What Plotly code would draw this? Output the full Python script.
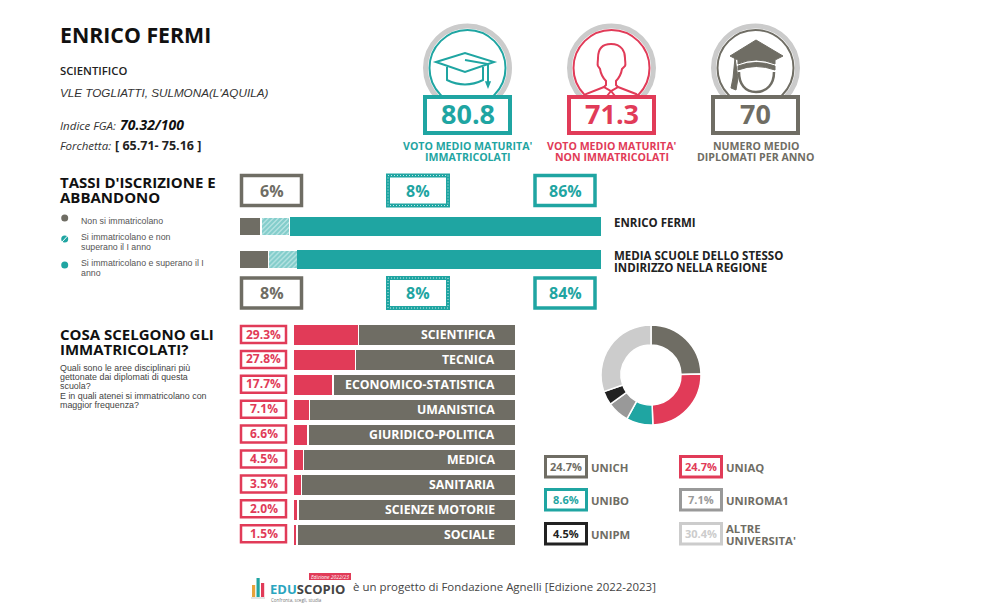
import plotly.graph_objects as go

W, H = 1000, 613

TEAL = "#1fa5a2"
RED = "#e13b58"
GREY = "#6f6d64"
MID_GREY = "#999999"
LIGHT_GREY = "#cccccc"
BLACK = "#222222"
RING = "#cbcbcb"
SANS = "Open Sans"
ARIAL = "Liberation Sans"

# Data
school_rows = ["ENRICO FERMI", "MEDIA"]
not_enrolled = [6, 8]
enrolled_fail = [8, 8]
enrolled_pass = [86, 84]

subjects = ["SCIENTIFICA", "TECNICA", "ECONOMICO-STATISTICA", "UMANISTICA",
            "GIURIDICO-POLITICA", "MEDICA", "SANITARIA", "SCIENZE MOTORIE", "SOCIALE"]
subject_share = [29.3, 27.8, 17.7, 7.1, 6.6, 4.5, 3.5, 2.0, 1.5]

universities = ["UNICH", "UNIAQ", "UNIBO", "UNIROMA1", "UNIPM", "ALTRE<br>UNIVERSITA'"]
university_share = [24.7, 24.7, 8.6, 7.1, 4.5, 30.4]
university_colors = [GREY, RED, TEAL, MID_GREY, BLACK, LIGHT_GREY]

kpi_values = ["80.8", "71.3", "70"]
kpi_line1 = ["VOTO MEDIO MATURITA'", "VOTO MEDIO MATURITA'", "NUMERO MEDIO"]
kpi_line2 = ["IMMATRICOLATI", "NON IMMATRICOLATI", "DIPLOMATI PER ANNO"]
kpi_colors = [TEAL, RED, GREY]

shapes = []
annotations = []


def label(x, y, text, size=11, color="#222222", bold=False, italic=False,
          family=SANS, anchor="left", weight=None):
    # pixel-positioned text on the overlay axes
    if bold:
        text = f"<b>{text}</b>"
    if italic:
        text = f"<i>{text}</i>"
    font = dict(size=size, color=color, family=family)
    if weight:
        font["weight"] = weight
    annotations.append(dict(
        x=x, y=y, xref="x3", yref="y3", text=text, showarrow=False,
        xanchor=anchor, yanchor="middle", align=anchor,
        font=font, borderpad=0, borderwidth=0,
    ))


def rect(x0, y0, x1, y1, line=None, width=0, fill="white"):
    shapes.append(dict(type="rect", xref="x3", yref="y3", x0=x0, y0=y0, x1=x1, y1=y1,
                       fillcolor=fill, line=dict(color=line or "rgba(0,0,0,0)", width=width)))


def circle(cx, cy, r, line=None, width=0, fill="rgba(0,0,0,0)"):
    shapes.append(dict(type="circle", xref="x3", yref="y3", x0=cx - r, y0=cy - r,
                       x1=cx + r, y1=cy + r, fillcolor=fill,
                       line=dict(color=line or "rgba(0,0,0,0)", width=width)))


def path(d, line=None, width=0, fill="rgba(0,0,0,0)"):
    shapes.append(dict(type="path", xref="x3", yref="y3", path=d, fillcolor=fill,
                       line=dict(color=line or "rgba(0,0,0,0)", width=width)))


def hatched_box(x0, y0, x1, y1):
    rect(x0, y0, x1, y1, TEAL, 4)
    shapes.append(dict(type="rect", xref="x3", yref="y3", x0=x0, y0=y0, x1=x1, y1=y1,
                       fillcolor="rgba(0,0,0,0)",
                       line=dict(color="rgba(255,255,255,0.75)", width=1, dash="1px,2px")))


# Header block
label(60, 34, "ENRICO FERMI", 21.3, "#111111", bold=True)
label(60, 70.5, "SCIENTIFICO", 11.3, "#222222", weight=600)
label(60, 92, "VLE TOGLIATTI, SULMONA(L'AQUILA)", 11.7, "#333333", italic=True, family=ARIAL)
label(60, 125, "Indice FGA: ", 11.5, "#333333", italic=True)
label(119.5, 124, "70.32/100", 14, "#111111", bold=True, italic=True)
label(60, 145, "Forchetta: ", 11.5, "#333333", italic=True)
label(115, 145, "[ 65.71- 75.16 ]", 12.5, "#222222", bold=True)

# KPI circles
for cx, color in zip([467.5, 611.5, 755.5], kpi_colors):
    circle(cx, 68, 42, RING, 5, "white")
    circle(cx, 68, 38, color, 2)

# mortarboard
path("M 436 62 L 465 53 L 494 62 L 465 72 Z", TEAL, 2)
path("M 447 67 L 447 80 Q 465 89 483 80 L 483 67", TEAL, 2)
path("M 465 60 L 488 64 L 488 82", TEAL, 2)
path("M 486 82 L 490 82 L 488 87 Z", TEAL, 1.5, TEAL)

# person
path("M 611 44 C 600 44 598 52 598 58 C 598 62 597 64 598 66 L 600 69 C 601 75 603 78 "
     "606 81 L 606 85 L 604 87 L 611 91 L 618 87 L 616 85 L 616 81 C 619 78 621 75 622 69 "
     "L 625 66 C 626 64 625 62 625 58 C 625 52 622 44 611 44 Z", RED, 2)
path("M 604 87 L 586 94 L 582 98", RED, 2)
path("M 618 87 L 636 94 L 641 98", RED, 2)
path("M 611 91 L 607 96", RED, 2)
path("M 611 91 L 615 96", RED, 2)

# graduate
path("M 730 56 L 756 40 L 783 56 L 775 60 L 775 64 Q 756 56 738 64 L 738 60 Z", GREY, 1, GREY)
path("M 738 66 Q 756 59 775 66 L 775 70 Q 756 63 738 70 Z", GREY, 1, GREY)
path("M 739 72 C 739 84 745 92 756 92 C 767 92 774 84 774 72", GREY, 2.5)
path("M 735 58 L 733 78 L 731 88 L 736 90 L 738 78 Z", GREY, 1, GREY)

# KPI value boxes
for cx, value, color, l1, l2 in zip([467.5, 611.5, 755.5], kpi_values, kpi_colors, kpi_line1, kpi_line2):
    rect(cx - 42.5, 97, cx + 42.5, 133, color, 4)
    label(cx, 113.5, value, 27, color, bold=True, anchor="center")
    label(cx, 146, l1, 10.6, color, bold=True, anchor="center")
    label(cx, 157, l2, 10.6, color, bold=True, anchor="center")

# Enrolment section
label(60, 182, "TASSI D'ISCRIZIONE E", 15, "#111111", bold=True)
label(60, 197, "ABBANDONO", 15, "#111111", bold=True)

circle(64.7, 218, 3.5, GREY, 0, GREY)
circle(64.7, 239, 3.5, TEAL, 0, TEAL)
path("M 62 242 L 67.5 236", "white", 1)
circle(64.7, 265, 3.5, TEAL, 0, TEAL)
label(81, 221, "Non si immatricolano", 8.8, "#555555", family=ARIAL)
label(81, 237, "Si immatricolano e non", 8.8, "#555555", family=ARIAL)
label(81, 247, "superano il I anno", 8.8, "#555555", family=ARIAL)
label(81, 263, "Si immatricolano e superano il I", 8.8, "#555555", family=ARIAL)
label(81, 273, "anno", 8.8, "#555555", family=ARIAL)

for row, (y0, y1) in enumerate([(175.5, 205.5), (278, 308)]):
    rect(241.5, y0, 301.5, y1, GREY, 3.5)
    hatched_box(388, y0, 448, y1)
    rect(535, y0, 595, y1, TEAL, 3.5)
    cy = (y0 + y1) / 2
    label(271.5, cy, f"{not_enrolled[row]}%", 16, GREY, bold=True, anchor="center")
    label(418, cy, f"{enrolled_fail[row]}%", 16, TEAL, bold=True, anchor="center")
    label(565, cy, f"{enrolled_pass[row]}%", 16, TEAL, bold=True, anchor="center")

label(614, 222, "ENRICO FERMI", 11.5, "#222222", bold=True)
label(614, 255, "MEDIA SCUOLE DELLO STESSO", 11.5, "#222222", bold=True)
label(614, 267, "INDIRIZZO NELLA REGIONE", 11.5, "#222222", bold=True)

# Subject section
label(60, 334, "COSA SCELGONO GLI", 15, "#111111", bold=True)
label(60, 349, "IMMATRICOLATI?", 15, "#111111", bold=True)
for y, line in zip([368, 377, 386, 396, 405],
                   ["Quali sono le aree disciplinari più", "gettonate dai diplomati di questa", "scuola?",
                    "E in quali atenei si immatricolano con", "maggior frequenza?"]):
    label(60, y, line, 8.9, "#444444", family=ARIAL)

for i, (name, share) in enumerate(zip(subjects, subject_share)):
    cy = 334.5 + i * 24.9
    rect(241, cy - 8.5, 286, cy + 8.5, RED, 2.5)
    label(263.5, cy - 0.5, f"{share:.1f}%", 12, RED, bold=True, anchor="center")
    annotations.append(dict(x=91.6, y=name, xref="x2", yref="y2", text=f"<b>{name}</b>",
                            showarrow=False, xanchor="right", yanchor="middle",
                            font=dict(size=12.3, color="white", family=SANS)))

# University legend
legend_pos = [(545.5, 456.5), (680.5, 456.5), (545.5, 489.5), (680.5, 489.5), (545.5, 523.5), (680.5, 523.5)]
for (x, y), name, share, color in zip(legend_pos, universities, university_share, university_colors):
    rect(x, y, x + 41, y + 20.5, color, 3)
    label(x + 20.5, y + 9.5, f"{share}%", 11, color, bold=True, anchor="center")
    if "<br>" in name:
        first, second = name.split("<br>")
        label(x + 45, y + 4.5, first, 11.3, GREY, bold=True)
        label(x + 45, y + 16.5, second, 11.3, GREY, bold=True)
    else:
        label(x + 45, y + 10.5, name, 11.3, GREY, bold=True)

# Footer logo and credit
for x, y0, color in [(252, 585, "#e8a33a"), (256.5, 578, TEAL), (261, 583, RED)]:
    rect(x, y0, x + 3.2, 597, None, 0, color)
rect(251, 597.5, 265, 598.5, None, 0, "#c9c9c9")
label(270, 589, "<b><span style='color:#2aa5c0'>EDU</span>SCOPIO</b>", 13, "#444444")
rect(309, 573, 351, 580, None, 0, RED)
label(330, 576.5, "Edizione 2022/23", 5, "white", italic=True, anchor="center")
label(271, 600, "Confronta, scegli, studia", 4.5, "#777777")
label(353, 586, "è un progetto di Fondazione Agnelli [Edizione 2022-2023]", 11.45, "#444444")

gap_line = dict(color="white", width=1.5)
traces = [
    go.Bar(y=school_rows, x=not_enrolled, orientation="h", xaxis="x", yaxis="y", width=0.56,
           marker=dict(color=GREY, line=gap_line)),
    go.Bar(y=school_rows, x=enrolled_fail, orientation="h", xaxis="x", yaxis="y", width=0.56,
           marker=dict(color="#e6f5f5", line=gap_line,
                       pattern=dict(shape="/", fgcolor=TEAL, bgcolor="#e6f5f5", size=3.5, solidity=0.8))),
    go.Bar(y=school_rows, x=enrolled_pass, orientation="h", xaxis="x", yaxis="y", width=0.56,
           marker=dict(color=TEAL, line=dict(color=TEAL, width=0))),
    go.Bar(y=subjects, x=subject_share, orientation="h", xaxis="x2", yaxis="y2", width=0.86,
           marker=dict(color=RED, line=gap_line)),
    go.Bar(y=subjects, x=[100 - s for s in subject_share], orientation="h", xaxis="x2", yaxis="y2", width=0.86,
           marker=dict(color=GREY, line=gap_line)),
    go.Pie(labels=universities, values=university_share,
           sort=False, direction="clockwise", rotation=0, hole=0.6, textinfo="none",
           marker=dict(colors=university_colors, line=dict(color="white", width=1.5)),
           domain=dict(x=[601 / W, 701 / W], y=[1 - 425 / H, 1 - 325 / H]), showlegend=False),
    # empty trace keeps the overlay pixel axes alive for shapes and labels
    go.Scatter(x=[0], y=[0], mode="markers", marker=dict(opacity=0), xaxis="x3", yaxis="y3",
               hoverinfo="skip"),
]

fig = go.Figure(data=traces)
hidden = dict(visible=False, fixedrange=True)
fig.update_layout(
    width=W, height=H,
    margin=dict(l=0, r=0, t=0, b=0),
    paper_bgcolor="white", plot_bgcolor="rgba(0,0,0,0)",
    barmode="stack", showlegend=False, hovermode=False,
    xaxis=dict(domain=[239.5 / W, 601 / W], range=[0, 100], **hidden),
    yaxis=dict(domain=[1 - 276 / H, 1 - 210 / H], autorange="reversed", anchor="x", **hidden),
    xaxis2=dict(domain=[293.5 / W, 516 / W], range=[0, 100], anchor="y2", **hidden),
    yaxis2=dict(domain=[1 - 547 / H, 1 - 322 / H], autorange="reversed", anchor="x2", **hidden),
    xaxis3=dict(domain=[0, 1], range=[0, W], anchor="y3", **hidden),
    yaxis3=dict(domain=[0, 1], range=[H, 0], anchor="x3", **hidden),
    shapes=shapes, annotations=annotations,
)

fig.write_html("out.html", config={"displayModeBar": False},
               post_script="document.body.style.margin='0';document.body.style.overflow='hidden';")
